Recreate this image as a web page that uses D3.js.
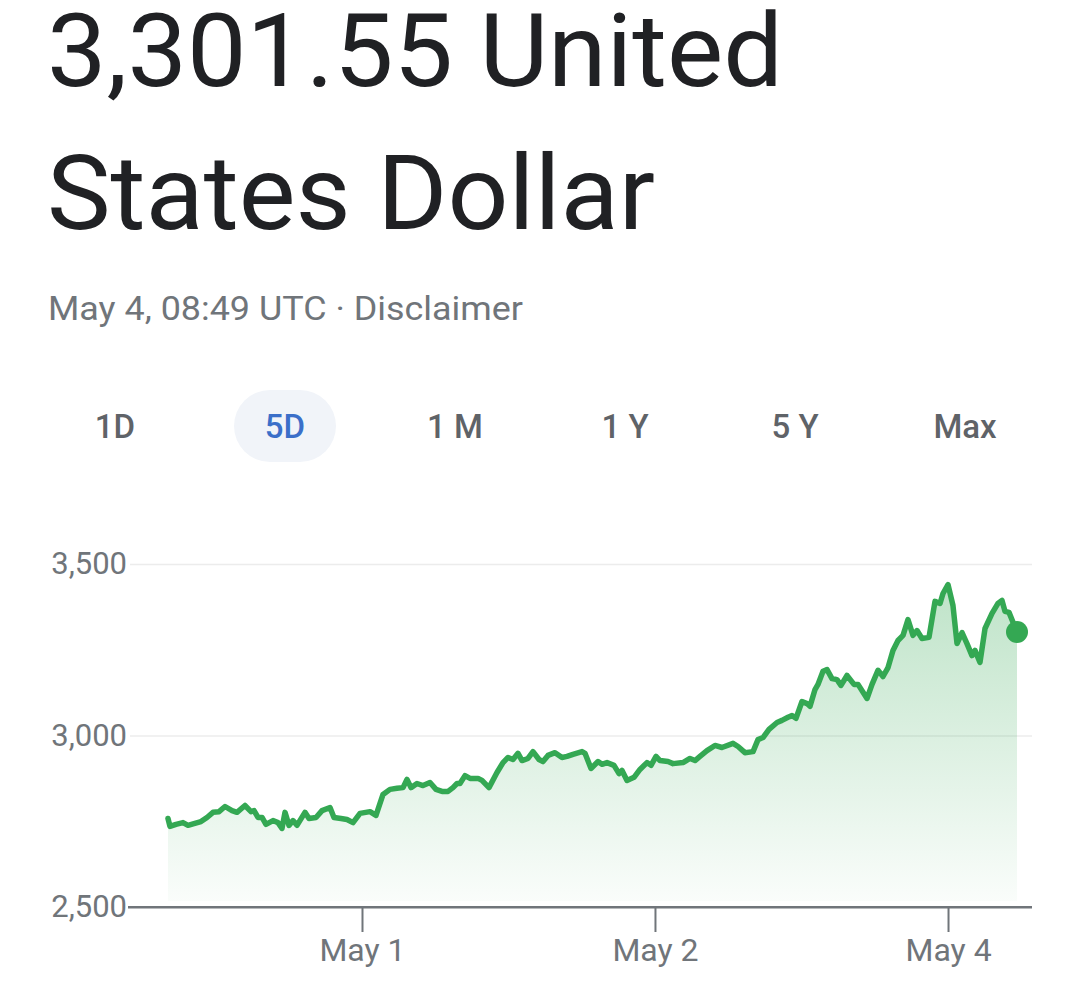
<!DOCTYPE html>
<html>
<head>
<meta charset="utf-8">
<script src="https://cdn.jsdelivr.net/npm/d3@7"></script>
<style>
  html, body { margin: 0; padding: 0; background: #fff; }
  svg { display: block; }
</style>
</head>
<body>
<svg id="chart" width="1080" height="997"></svg>
<script>
// ---- data ----
const priceTitle = "3,301.55 United";
const currencyTitle = "States Dollar";
const subtitle = "May 4, 08:49 UTC · Disclaimer";
const ranges = ["1D", "5D", "1 M", "1 Y", "5 Y", "Max"];
const activeRange = "5D";

const yTicks = [2500, 3000, 3500];
const xTickHours = [27.42, 68.83, 110.25];
const xTickLabels = ["May 1", "May 2", "May 4"];

// hours since the start of the 5-day window
const hours = [0, 0.28, 1.13, 2.12, 2.83, 3.67, 4.66, 5.51, 6.36, 7.21, 8.06, 9.05, 9.75, 10.88, 11.73, 12.16, 12.72, 13.29, 13.85, 14.84,
  15.55, 16.11, 16.54, 17.10, 17.67, 18.23, 19.36, 19.93, 20.92, 21.77, 22.90, 23.46, 24.45, 25.30, 26.15, 27.14, 28.55, 29.40, 30.39, 31.38,
  32.37, 33.22, 33.78, 34.35, 35.19, 36.04, 37.03, 37.88, 38.73, 39.58, 40.28, 40.85, 41.27, 41.98, 42.69, 43.82, 44.38, 45.37, 46.50, 47.35,
  48.06, 48.76, 49.47, 50.04, 50.88, 51.59, 52.44, 53.00, 53.71, 54.70, 55.69, 56.40, 57.24, 58.52, 58.94, 59.79, 60.78, 61.34, 62.05, 63.04,
  63.75, 64.17, 64.88, 65.87, 66.71, 67.70, 68.27, 68.98, 69.54, 70.67, 71.38, 72.79, 73.78, 74.49, 75.19, 76.18, 77.31, 78.30, 79.86, 80.57,
  81.55, 82.69, 83.39, 84.10, 84.95, 86.08, 86.78, 87.63, 88.20, 88.76, 89.61, 90.32, 90.74, 91.45, 91.87, 92.58, 93.15, 93.85, 94.56, 95.12,
  95.97, 96.96, 97.53, 98.80, 99.51, 100.35, 101.06, 101.77, 102.47, 103.18, 103.89, 104.59, 105.30, 105.87, 106.57, 107.56, 108.41, 109.12, 109.54, 110.25,
  110.95, 111.52, 112.23, 112.93, 113.64, 114.06, 114.77, 115.48, 116.47, 117.31, 117.88, 118.30, 118.87, 120.00];

const prices = [2758, 2735, 2741, 2746, 2738, 2743, 2749, 2761, 2776, 2778, 2793, 2781, 2776, 2796, 2778, 2781, 2761, 2761, 2741, 2752,
  2746, 2729, 2776, 2738, 2752, 2738, 2776, 2758, 2761, 2781, 2790, 2761, 2758, 2755, 2746, 2773, 2778, 2767, 2828, 2843,
  2846, 2848, 2872, 2848, 2860, 2854, 2863, 2843, 2837, 2837, 2848, 2860, 2860, 2883, 2875, 2875, 2869, 2848, 2892, 2921,
  2936, 2930, 2948, 2927, 2933, 2953, 2930, 2924, 2942, 2950, 2936, 2939, 2945, 2953, 2948, 2904, 2924, 2916, 2921, 2913,
  2889, 2898, 2869, 2878, 2901, 2921, 2913, 2939, 2927, 2924, 2918, 2921, 2933, 2927, 2939, 2956, 2971, 2965, 2977, 2968,
  2950, 2953, 2988, 2994, 3018, 3038, 3044, 3053, 3058, 3050, 3099, 3093, 3085, 3134, 3149, 3187, 3192, 3166, 3163, 3146,
  3175, 3149, 3149, 3108, 3149, 3190, 3172, 3198, 3248, 3277, 3292, 3338, 3292, 3306, 3283, 3286, 3391, 3385, 3414, 3440,
  3379, 3268, 3300, 3268, 3233, 3248, 3213, 3312, 3356, 3385, 3394, 3362, 3359, 3301.55];

// ---- drawing ----
const svg = d3.select("#chart");
svg.append("rect").attr("width", 1080).attr("height", 997).attr("fill", "#fff");

const FONT = "Roboto, 'Noto Sans', sans-serif";

// Header
svg.append("text").text(priceTitle)
  .attr("x", 47).attr("y", 86)
  .attr("font-family", FONT).attr("font-size", 102).attr("fill", "#202124")
  .attr("textLength", 736).attr("lengthAdjust", "spacingAndGlyphs");
svg.append("text").text(currencyTitle)
  .attr("x", 47).attr("y", 229)
  .attr("font-family", FONT).attr("font-size", 104).attr("fill", "#202124")
  .attr("textLength", 608).attr("lengthAdjust", "spacingAndGlyphs");
svg.append("text").text(subtitle)
  .attr("x", 48).attr("y", 320)
  .attr("font-family", FONT).attr("font-size", 33).attr("fill", "#70757a")
  .attr("textLength", 475).attr("lengthAdjust", "spacingAndGlyphs");

// Range buttons
const btnX = d3.scalePoint().domain(ranges).range([115, 965]);
const btns = svg.append("g").selectAll("g").data(ranges).join("g")
  .attr("transform", d => `translate(${btnX(d)},426)`);
btns.filter(d => d === activeRange).append("rect")
  .attr("x", -51).attr("y", -36).attr("width", 102).attr("height", 72).attr("rx", 36)
  .attr("fill", "#f1f4f9");
btns.append("text").text(d => d)
  .attr("text-anchor", "middle").attr("dy", "0.35em")
  .attr("font-family", FONT).attr("font-size", 33).attr("font-weight", 500)
  .attr("fill", d => d === activeRange ? "#3b6fc9" : "#5f6368");

// Scales
const x = d3.scaleLinear().domain([0, 120]).range([168, 1017]);
const y = d3.scaleLinear().domain([2500, 3500]).range([907, 564]);
const gridLeft = 130, gridRight = 1032;

// Y axis with gridlines
const yAxis = svg.append("g").attr("transform", `translate(${gridLeft},0)`)
  .call(d3.axisLeft(y).tickValues(yTicks).tickFormat(d3.format(",")).tickSize(-(gridRight - gridLeft)).tickPadding(3));
yAxis.select(".domain").remove();
yAxis.selectAll(".tick line")
  .attr("stroke", d => d === 2500 ? "#70757a" : "#ececec")
  .attr("stroke-width", d => d === 2500 ? 2 : 1.5)
  .attr("x1", d => d === 2500 ? -2 : 0);
yAxis.selectAll(".tick text")
  .attr("font-family", FONT).attr("font-size", 31).attr("fill", "#70757a");

// Area gradient
const defs = svg.append("defs");
const grad = defs.append("linearGradient").attr("id", "areaGrad")
  .attr("gradientUnits", "userSpaceOnUse")
  .attr("x1", 0).attr("x2", 0).attr("y1", y(3450)).attr("y2", y(2500));
grad.append("stop").attr("offset", "0%").attr("stop-color", "#34a853").attr("stop-opacity", 0.32);
grad.append("stop").attr("offset", "100%").attr("stop-color", "#34a853").attr("stop-opacity", 0.02);

const data = hours.map((h, i) => ({ h, p: prices[i] }));

svg.append("path").datum(data)
  .attr("fill", "url(#areaGrad)")
  .attr("d", d3.area().x(d => x(d.h)).y0(y(2500) - 6).y1(d => y(d.p)));

// X axis (ticks + labels)
const xAxis = svg.append("g").attr("transform", `translate(0,${y(2500)})`)
  .call(d3.axisBottom(x).tickValues(xTickHours).tickFormat((d, i) => xTickLabels[i]).tickSize(25).tickPadding(6));
xAxis.select(".domain").remove();
xAxis.selectAll(".tick line").attr("stroke", "#70757a").attr("stroke-width", 2);
xAxis.selectAll(".tick text")
  .attr("font-family", FONT).attr("font-size", 32).attr("fill", "#70757a");

// Re-draw baseline on top of area
svg.append("line")
  .attr("x1", gridLeft - 2).attr("x2", gridRight)
  .attr("y1", y(2500)).attr("y2", y(2500))
  .attr("stroke", "#70757a").attr("stroke-width", 2);

// Line
svg.append("path").datum(data)
  .attr("fill", "none").attr("stroke", "#34a853").attr("stroke-width", 5.5)
  .attr("stroke-linejoin", "round").attr("stroke-linecap", "round")
  .attr("d", d3.line().x(d => x(d.h)).y(d => y(d.p)));

// End dot
const last = data[data.length - 1];
svg.append("circle").attr("cx", x(last.h)).attr("cy", y(last.p)).attr("r", 11).attr("fill", "#34a853");
</script>
</body>
</html>
